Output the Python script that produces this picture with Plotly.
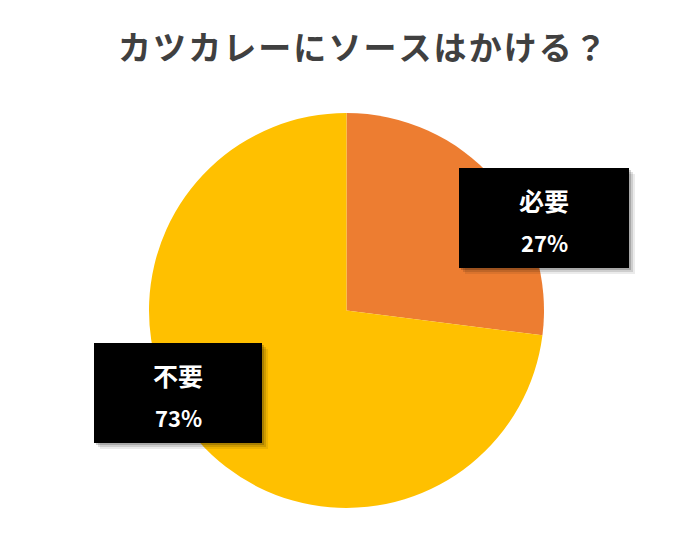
import plotly.graph_objects as go

W, H = 684, 543

# data
labels = ["必要", "不要"]
values = [27, 73]
colors = ["#ED7D31", "#FFC000"]
title = "カツカレーにソースはかける？"

# label boxes (pixel boxes: x0, y0, x1, y1)
boxes = [(459, 168, 629, 268), (94, 343, 262, 443)]


def px(x):
    return x / W


def py(y):
    return 1 - y / H


fig = go.Figure()
fig.add_trace(go.Pie(
    labels=labels,
    values=values,
    marker=dict(colors=colors),
    sort=False,
    direction="clockwise",
    rotation=0,
    textinfo="none",
    hoverinfo="label+percent",
    showlegend=False,
    domain=dict(x=[px(149), px(544)], y=[py(508), py(113)]),
))

shapes = []
annotations = []
total = sum(values)
for (x0, y0, x1, y1), lab, val in zip(boxes, labels, values):
    # soft shadow
    for i, op in enumerate([0.08, 0.12, 0.18]):
        d = 6 - i * 2
        shapes.append(dict(type="rect", xref="paper", yref="paper",
                           x0=px(x0 + d), x1=px(x1 + d), y0=py(y1 + d), y1=py(y0 + d),
                           fillcolor="rgba(0,0,0,%s)" % op, line=dict(width=0), layer="above"))
    shapes.append(dict(type="rect", xref="paper", yref="paper",
                       x0=px(x0), x1=px(x1), y0=py(y1), y1=py(y0),
                       fillcolor="black", line=dict(width=0), layer="above"))
    cx = (x0 + x1) / 2
    annotations.append(dict(x=px(cx), y=py(y0 + 32), xref="paper", yref="paper",
                            xanchor="center", yanchor="middle",
                            text="<b>%s</b>" % lab, showarrow=False,
                            font=dict(size=25, color="white", family="Noto Sans CJK JP")))
    annotations.append(dict(x=px(cx), y=py(y0 + 74), xref="paper", yref="paper",
                            xanchor="center", yanchor="middle",
                            text="<b>%d%%</b>" % round(val * 100 / total), showarrow=False,
                            font=dict(size=22, color="white", family="Noto Sans CJK JP")))

# small gaps between title glyphs
spaced_title = "\u200a".join(title)
annotations.append(dict(x=px(362), y=py(46), xref="paper", yref="paper",
                        xanchor="center", yanchor="middle",
                        text="<b>%s</b>" % spaced_title, showarrow=False,
                        font=dict(size=33, color="#404040", family="Noto Sans CJK JP")))

fig.update_layout(
    width=W, height=H,
    margin=dict(l=0, r=0, t=0, b=0),
    paper_bgcolor="white",
    plot_bgcolor="white",
    shapes=shapes,
    annotations=annotations,
)

fig.write_html("out.html", config={"displayModeBar": False},
               post_script="document.body.style.margin='0';")
